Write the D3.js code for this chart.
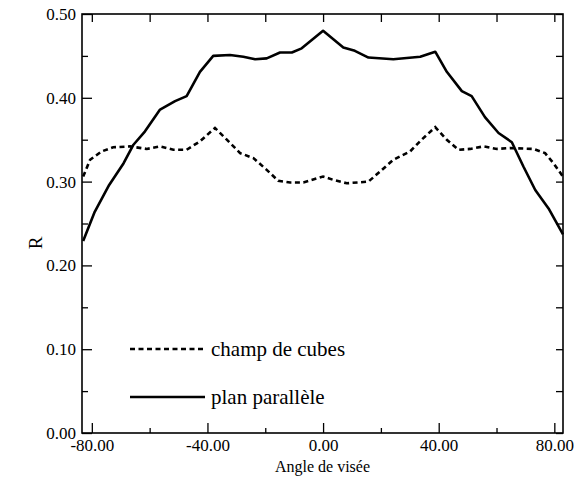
<!DOCTYPE html>
<html>
<head>
<meta charset="utf-8">
<script src="https://cdn.jsdelivr.net/npm/d3@7/dist/d3.min.js"></script>
<style>
  html, body { margin: 0; padding: 0; background: #fff; }
  svg text { font-family: "Liberation Serif", "Times New Roman", Times, "DejaVu Serif", serif !important; fill: #000; }
</style>
</head>
<body>
<svg id="chart" width="574" height="490"></svg>
<script>
// ---- data ----
const xTicks = [-80, -40, 0, 40, 80];
const xTickLabels = ["-80.00", "-40.00", "0.00", "40.00", "80.00"];
const xMinorTicks = [-60, -20, 20, 60];
const yTicks = [0, 0.1, 0.2, 0.3, 0.4, 0.5];
const yTickLabels = ["0.00", "0.10", "0.20", "0.30", "0.40", "0.50"];
const yMinorTicks = [0.05, 0.15, 0.25, 0.35, 0.45];

const planAngles = [-83, -79, -74, -69, -65.6, -61.6, -56.4, -51.2, -47.2, -42.6, -38, -32.2, -27.6, -23.5, -19.5, -14.9, -10.8, -7.4, 0,
                    7, 11, 15.7, 24.3, 33.6, 38.8, 42.8, 48, 51.4, 56, 60.7, 65.3, 69.3, 73.4, 78, 83];
const planValues = [0.229, 0.264, 0.296, 0.322, 0.344, 0.360, 0.386, 0.396, 0.402, 0.431, 0.450, 0.451, 0.449, 0.446, 0.447, 0.454, 0.454, 0.459, 0.480,
                    0.460, 0.456, 0.448, 0.446, 0.449, 0.455, 0.431, 0.408, 0.402, 0.377, 0.358, 0.347, 0.318, 0.290, 0.268, 0.237];

const cubesAngles = [-83, -80.6, -76.6, -72.6, -66.8, -61, -56.4, -51.8, -47.2, -42.6, -37.4, -33.3, -28.7, -24.1, -19.5, -15.5, -11.4, -6.8, 0,
                     3.6, 8.2, 15.7, 19.7, 24.3, 30.1, 34.1, 38.8, 42.8, 46.8, 50.9, 55.5, 60.1, 64.7, 72.8, 76.8, 79.7, 83];
const cubesValues = [0.306, 0.326, 0.336, 0.341, 0.342, 0.339, 0.342, 0.338, 0.338, 0.348, 0.364, 0.350, 0.334, 0.328, 0.314, 0.301, 0.299, 0.299, 0.306,
                     0.302, 0.298, 0.300, 0.312, 0.326, 0.336, 0.350, 0.365, 0.350, 0.338, 0.339, 0.342, 0.339, 0.340, 0.339, 0.334, 0.322, 0.306];

const seriesNames = ["champ de cubes", "plan parallèle"];
const xTitle = "Angle de visée";
const yTitle = "R";

// ---- layout ----
const svg = d3.select("#chart");
const L = 82, R = 563, T = 14, B = 433;
const x = d3.scaleLinear().domain([-83.4, 83.0]).range([L, R]);
const y = d3.scaleLinear().domain([0, 0.5]).range([B, T]);

const toPts = (a, v) => a.map((d, i) => [d, v[i]]);
const line = d3.line().x(d => x(d[0])).y(d => y(d[1])).curve(d3.curveLinear);

const plot = svg.append("g");
plot.append("path").datum(toPts(cubesAngles, cubesValues))
  .attr("d", line).attr("fill", "none").attr("stroke", "#000")
  .attr("stroke-width", 2.6).attr("stroke-dasharray", "5,3.5");
plot.append("path").datum(toPts(planAngles, planValues))
  .attr("d", line).attr("fill", "none").attr("stroke", "#000")
  .attr("stroke-width", 2.6).attr("stroke-linejoin", "round");

// frame
svg.append("rect").attr("x", L).attr("y", T).attr("width", R - L).attr("height", B - T)
  .attr("fill", "none").attr("stroke", "#000").attr("stroke-width", 1.6);

// axes with inward ticks
const ax = svg.append("g");
ax.append("g").attr("transform", `translate(0,${B})`)
  .call(d3.axisBottom(x).tickValues(xTicks).tickSize(-10).tickFormat((d, i) => xTickLabels[i]).tickPadding(6));
ax.append("g").attr("transform", `translate(0,${B})`)
  .call(d3.axisBottom(x).tickValues(xMinorTicks).tickSize(-5).tickFormat(""));
ax.append("g").attr("transform", `translate(0,${T})`)
  .call(d3.axisTop(x).tickValues(xTicks.concat(xMinorTicks)).tickSize(-8).tickFormat(""));
ax.append("g").attr("transform", `translate(${L},0)`)
  .call(d3.axisLeft(y).tickValues(yTicks).tickSize(-10).tickFormat((d, i) => yTickLabels[i]).tickPadding(6));
ax.append("g").attr("transform", `translate(${L},0)`)
  .call(d3.axisLeft(y).tickValues(yMinorTicks).tickSize(-6).tickFormat(""));
ax.append("g").attr("transform", `translate(${R},0)`)
  .call(d3.axisRight(y).tickValues(yTicks.concat(yMinorTicks)).tickSize(-7).tickFormat(""));
ax.selectAll(".domain").remove();
ax.selectAll("g").attr("font-family", null);
ax.selectAll(".tick line").attr("stroke", "#000").attr("stroke-width", 1.3);
ax.selectAll(".tick text").attr("font-size", 17).attr("fill", "#000");

// titles
svg.append("text").attr("x", (L + R) / 2).attr("y", 472).attr("text-anchor", "middle")
  .attr("font-size", 16).text(xTitle);
svg.append("text").attr("transform", "translate(42,243) rotate(-90)").attr("text-anchor", "middle")
  .attr("font-size", 19).text(yTitle);

// legend
const leg = svg.append("g");
const legY = [349, 397];
const legDash = ["5,3.5", null];
seriesNames.forEach((n, i) => {
  leg.append("line").attr("x1", 130).attr("x2", 205).attr("y1", legY[i]).attr("y2", legY[i])
    .attr("stroke", "#000").attr("stroke-width", 2.6).attr("stroke-dasharray", legDash[i]);
  leg.append("text").attr("x", 211).attr("y", legY[i] + 7).attr("font-size", 21).text(n);
});
</script>
</body>
</html>
